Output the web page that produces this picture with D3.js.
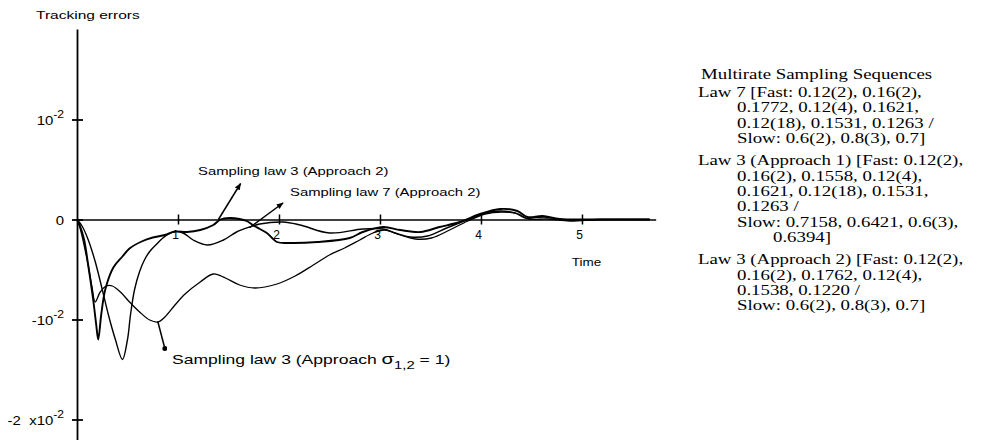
<!DOCTYPE html>
<html>
<head>
<meta charset="utf-8">
<script src="https://cdn.jsdelivr.net/npm/d3@7"></script>
<style>
  body { margin: 0; background: #fff; }
  svg { display: block; }
</style>
</head>
<body>
<div id="chart"></div>
<script>
// tracking error curves: [time, error in units of 1e-2]
var law3App2 = [[0,0],[0.03,-0.065],[0.07,-0.2],[0.11,-0.45],[0.16,-0.8],[0.19,-1.05],[0.21,-1.2],
  [0.24,-0.95],[0.28,-0.7],[0.36,-0.48],[0.45,-0.37],[0.52,-0.29],[0.64,-0.22],[0.75,-0.18],
  [0.87,-0.155],[0.97,-0.12],[1.09,-0.125],[1.22,-0.105],[1.35,-0.055],[1.42,0],[1.51,0.015],
  [1.61,0.005],[1.68,-0.015],[1.74,-0.055],[1.81,-0.095],[1.88,-0.135],[1.98,-0.225],[2.11,-0.235],
  [2.38,-0.225],[2.70,-0.185],[2.83,-0.125],[3.03,-0.075],[3.20,-0.105],[3.40,-0.125],[3.59,-0.075],
  [3.79,-0.025],[3.99,0.055],[4.19,0.105],[4.36,0.085],[4.46,0.025],[4.61,0.035],[4.78,0.005],
  [5.08,0],[5.67,0]];
var law7App2 = [[0,0],[0.05,-0.065],[0.11,-0.2],[0.18,-0.42],[0.25,-0.7],[0.31,-0.95],[0.38,-1.2],
  [0.45,-1.4],[0.50,-1.2],[0.53,-0.95],[0.57,-0.7],[0.62,-0.52],[0.67,-0.4],[0.72,-0.32],
  [0.79,-0.245],[0.85,-0.185],[0.95,-0.125],[1.05,-0.135],[1.15,-0.205],[1.29,-0.255],[1.45,-0.205],
  [1.58,-0.125],[1.71,-0.075],[1.81,-0.045],[2.04,-0.025],[2.21,-0.055],[2.50,-0.135],[2.83,-0.095],
  [3.03,-0.095],[3.15,-0.135],[3.30,-0.175],[3.47,-0.165],[3.66,-0.085],[3.86,-0.005],[4.04,0.065],
  [4.19,0.085],[4.34,0.065],[4.44,0.015],[4.63,0.025],[4.83,-0.005],[5.18,0],[5.67,0]];
var law3Sigma = [[0,0],[0.03,-0.085],[0.07,-0.255],[0.11,-0.455],[0.15,-0.685],[0.18,-0.825],
  [0.23,-0.725],[0.29,-0.665],[0.35,-0.665],[0.43,-0.725],[0.52,-0.825],[0.62,-0.925],[0.72,-1.005],
  [0.80,-1.025],[0.87,-0.975],[0.97,-0.855],[1.07,-0.745],[1.22,-0.625],[1.35,-0.545],[1.47,-0.585],
  [1.61,-0.655],[1.76,-0.685],[1.98,-0.645],[2.16,-0.565],[2.34,-0.455],[2.50,-0.355],[2.65,-0.285],
  [2.80,-0.205],[2.93,-0.135],[3.05,-0.105],[3.20,-0.155],[3.35,-0.195],[3.51,-0.185],[3.69,-0.105],
  [3.87,-0.015],[4.04,0.055],[4.21,0.075],[4.37,0.055],[4.47,0.005],[4.66,0.005],[4.88,-0.015],
  [5.18,0],[5.67,0]];

var xTicks = [1, 2, 3, 4, 5];
var yTicks = [1, 0, -1, -2];
var yTickBase = ['10', '0', '-10', '-2\u00a0\u00a0x10'];
var yTickExp = ['-2', '', '-2', '-2'];

// curve labels: text, arrow start on curve, arrow tip, text anchor (all in data units)
var curveLabels = ['Sampling law 3 (Approach 2)', 'Sampling law 7 (Approach 2)', 'Sampling law 3 (Approach '];
var arrowFrom = [[1.40, 0.0], [1.71, -0.08], [0.80, -1.02]];
var arrowTo = [[1.62, 0.36], [2.04, 0.165], [0.87, -1.29]];
var labelAt = [[1.198, 0.445], [2.109, 0.235], [0.94, -1.445]];

var legendTitle = 'Multirate Sampling Sequences';
var legendLaw7 = ['Law 7 [Fast: 0.12(2), 0.16(2),', '0.1772, 0.12(4), 0.1621,',
  '0.12(18), 0.1531, 0.1263 /', 'Slow: 0.6(2), 0.8(3), 0.7]'];
var legendLaw3a = ['Law 3 (Approach 1) [Fast: 0.12(2),', '0.16(2), 0.1558, 0.12(4),',
  '0.1621, 0.12(18), 0.1531,', '0.1263 /', 'Slow: 0.7158, 0.6421, 0.6(3),', '0.6394]'];
var legendLaw3b = ['Law 3 (Approach 2) [Fast: 0.12(2),', '0.16(2), 0.1762, 0.12(4),',
  '0.1538, 0.1220 /', 'Slow: 0.6(2), 0.8(3), 0.7]'];

var W = 995, H = 440, sx = 1.35;
var sans = '"Liberation Sans", Arial, sans-serif';

var svg = d3.select('#chart').append('svg')
  .attr('width', W)
  .attr('height', H);

var x = d3.scaleLinear().domain([0, 5.73]).range([77, 655.7]);
var y = d3.scaleLinear().domain([-2.205, 1.905]).range([440, 29]);

function stretchText(g, px, py, str, size, family, k) {
  return g.append('text')
    .attr('transform', 'translate(' + px + ',' + py + ') scale(' + (k || sx) + ',1)')
    .attr('font-family', family || sans)
    .attr('font-size', size)
    .attr('fill', '#000')
    .text(str);
}

// x axis on the zero line
var gx = svg.append('g')
  .attr('transform', 'translate(0,' + y(0) + ')')
  .call(d3.axisBottom(x).tickValues(xTicks).tickSize(5).tickSizeOuter(0).tickFormat(d3.format('d')));
gx.select('.domain').attr('stroke-width', 1.5);
gx.selectAll('.tick line').attr('y1', -5).attr('y2', 5).attr('stroke-width', 1.5);
gx.selectAll('.tick text')
  .attr('y', 11).attr('dx', -3)
  .attr('font-family', sans).attr('font-size', 12);

// y axis
var gy = svg.append('g')
  .attr('transform', 'translate(' + x(0) + ',0)')
  .call(d3.axisLeft(y).tickValues(yTicks).tickSize(5).tickSizeOuter(0));
gy.select('.domain').attr('stroke-width', 1.8);
gy.selectAll('.tick line').attr('x1', -5).attr('x2', 6).attr('stroke-width', 1.8);
gy.selectAll('.tick text').each(function (d, i) {
  var t = d3.select(this).text('')
    .attr('x', 0).attr('dy', '0.35em')
    .attr('transform', 'translate(-13,0) scale(1.15,1)')
    .attr('font-family', sans).attr('font-size', 13);
  t.append('tspan').text(yTickBase[i]);
  if (yTickExp[i]) t.append('tspan').attr('dy', -7).attr('font-size', 10.5).text(yTickExp[i]);
});

stretchText(svg, 36, 19, 'Tracking  errors', 11.5);
stretchText(svg, x(4.9), y(-0.465), 'Time', 10);

// curves
var line = d3.line()
  .x(function (d) { return x(d[0]); })
  .y(function (d) { return y(d[1]); })
  .curve(d3.curveCatmullRom.alpha(0.5));

svg.append('path').datum(law3Sigma)
  .attr('d', line).attr('fill', 'none').attr('stroke', '#000').attr('stroke-width', 1.3);
svg.append('path').datum(law7App2)
  .attr('d', line).attr('fill', 'none').attr('stroke', '#000').attr('stroke-width', 1.4);
svg.append('path').datum(law3App2)
  .attr('d', line).attr('fill', 'none').attr('stroke', '#000').attr('stroke-width', 1.9);

// arrows
svg.append('defs').append('marker')
  .attr('id', 'head')
  .attr('viewBox', '0 0 10 10')
  .attr('refX', 9).attr('refY', 5)
  .attr('markerWidth', 7).attr('markerHeight', 7)
  .attr('markerUnits', 'userSpaceOnUse')
  .attr('orient', 'auto')
  .append('path').attr('d', 'M0,1L10,5L0,9Z').attr('fill', '#000');
svg.select('defs').append('marker')
  .attr('id', 'dot')
  .attr('viewBox', '0 0 10 10')
  .attr('refX', 5).attr('refY', 5)
  .attr('markerWidth', 5).attr('markerHeight', 5)
  .attr('markerUnits', 'userSpaceOnUse')
  .append('circle').attr('cx', 5).attr('cy', 5).attr('r', 5).attr('fill', '#000');

arrowFrom.forEach(function (p, i) {
  svg.append('line')
    .attr('x1', x(p[0])).attr('y1', y(p[1]))
    .attr('x2', x(arrowTo[i][0])).attr('y2', y(arrowTo[i][1]))
    .attr('stroke', '#000').attr('stroke-width', 1.5)
    .attr('marker-end', i < 2 ? 'url(#head)' : 'url(#dot)');
});

stretchText(svg, x(labelAt[0][0]), y(labelAt[0][1]), curveLabels[0], 11);
stretchText(svg, x(labelAt[1][0]), y(labelAt[1][1]), curveLabels[1], 11);
var sig = stretchText(svg, x(labelAt[2][0]), y(labelAt[2][1]), curveLabels[2], 13);
sig.append('tspan').attr('font-size', 15).text('\u03c3');
sig.append('tspan').attr('dy', 5).attr('font-size', 11).text('1,2');
sig.append('tspan').attr('dy', -5).text(' =  1)');

// legend text block
var serif = '"Liberation Serif", "Times New Roman", serif';
var leg = svg.append('g');
var indent = [698, 737, 773];
var ly = 79;
stretchText(leg, 701, ly, legendTitle, 14.5, serif, 1.3);
[legendLaw7, legendLaw3a, legendLaw3b].forEach(function (group, gi) {
  ly += gi === 0 ? 18 : 22;
  group.forEach(function (s, i) {
    var lvl = i === 0 ? 0 : (gi === 1 && i === group.length - 1 ? 2 : 1);
    stretchText(leg, indent[lvl], ly, s, 14.5, serif, 1.3);
    if (i < group.length - 1) ly += 15.4;
  });
});
</script>
</body>
</html>
